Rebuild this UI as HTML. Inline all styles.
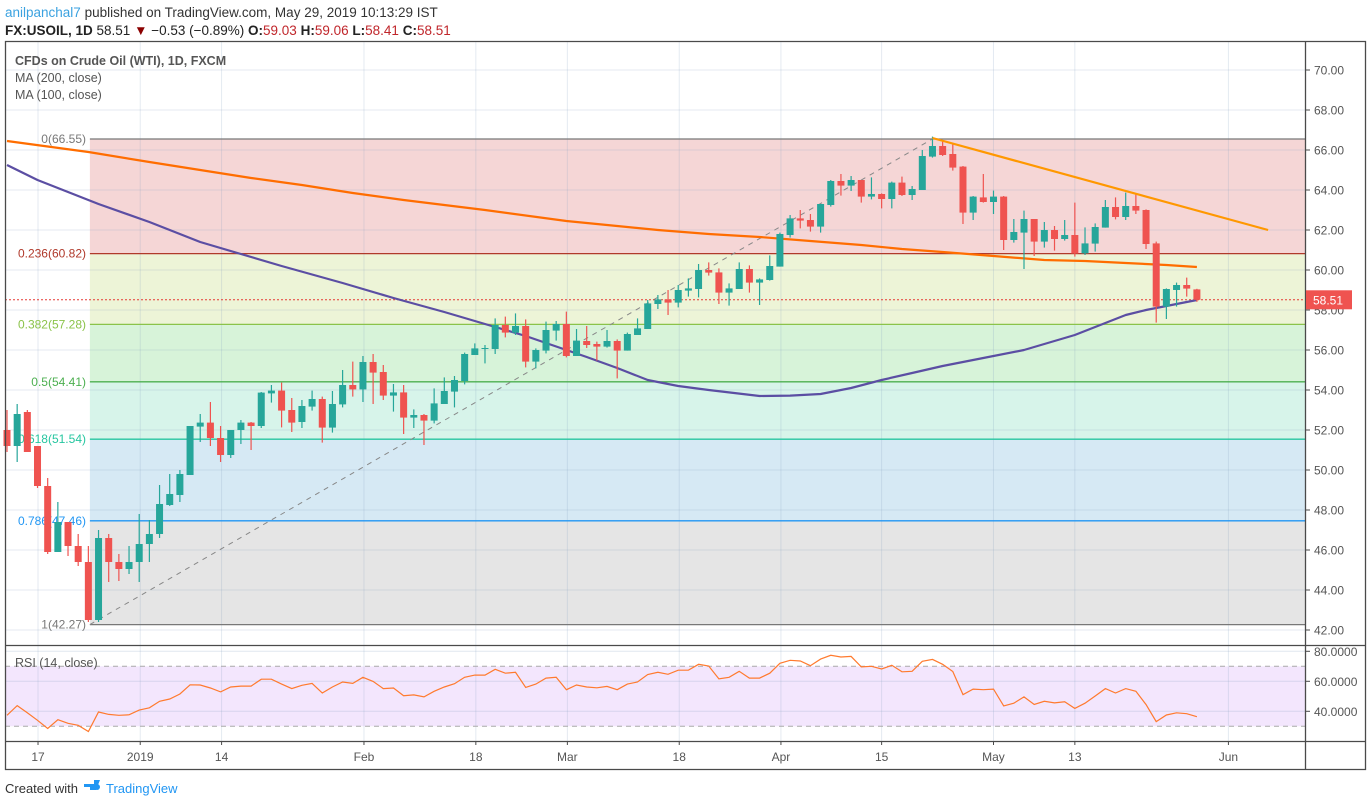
<!DOCTYPE html>
<html><head><meta charset="utf-8">
<style>
html,body{margin:0;padding:0;background:#fff;}
body{width:1372px;height:806px;overflow:hidden;font-family:"Liberation Sans",sans-serif;}
svg text{font-family:"Liberation Sans",sans-serif;}
</style></head>
<body>
<svg id="chart" width="1372" height="806" viewBox="0 0 1372 806" xmlns="http://www.w3.org/2000/svg">
  <g>
    <text x="5" y="17" font-size="13.5" fill="#333"><tspan fill="#3ba2e0">anilpanchal7</tspan> published on TradingView.com, May 29, 2019 10:13:29 IST</text>
    <text x="5" y="35" font-size="13.5" fill="#222"><tspan font-weight="bold">FX:USOIL, 1D</tspan> 58.51 <tspan fill="#8b0000">▼</tspan> −0.53 (−0.89%) <tspan font-weight="bold">O:</tspan><tspan fill="#c0262b">59.03</tspan> <tspan font-weight="bold">H:</tspan><tspan fill="#c0262b">59.06</tspan> <tspan font-weight="bold">L:</tspan><tspan fill="#c0262b">58.41</tspan> <tspan font-weight="bold">C:</tspan><tspan fill="#c0262b">58.51</tspan></text>
  </g>
  <g id="bg"></g>
  <g id="grid"></g>
  <g id="fib"></g>
  <g id="marks"></g>
  <g id="axes"></g>
  <g>
    <text x="15" y="65" font-size="12.5" fill="#555" font-weight="bold">CFDs on Crude Oil (WTI), 1D, FXCM</text>
    <text x="15" y="82" font-size="12.5" fill="#555">MA (200, close)</text>
    <text x="15" y="99" font-size="12.5" fill="#555">MA (100, close)</text>
    <text x="15" y="667" font-size="12.5" fill="#555">RSI (14, close)</text>
  </g>
  <g>
    <text x="5" y="793" font-size="13" fill="#333">Created with</text>
    <g>
      <path d="M84 784 h10 v-4 h6 l-4 10 h-6 v-3 h-6z" fill="#2196f3"/>
      <circle cx="97" cy="787" r="3" fill="#2196f3"/>
      <text x="106" y="793" font-size="13" fill="#2196f3">TradingView</text>
    </g>
  </g>
</svg>
<script>
// ---- data ----
const opens  = [52.0,51.2,52.9,51.2,49.2,45.9,47.4,46.2,45.4,42.5,46.6,45.4,45.05,45.4,46.3,46.8,48.25,48.75,49.75,52.17,52.37,51.6,50.75,52.0,52.37,52.2,53.83,53.97,53.0,52.4,53.17,53.55,52.12,53.28,54.25,54.03,55.4,54.9,53.72,53.88,52.62,52.75,52.47,53.3,53.92,54.45,55.75,56.05,56.05,57.25,56.87,57.2,55.42,55.97,56.97,57.3,55.7,56.45,56.3,56.17,56.45,55.97,56.75,57.05,58.3,58.53,58.37,58.97,59.05,60.0,59.88,58.87,59.05,60.05,59.37,59.5,60.17,61.75,62.58,62.5,62.17,63.25,64.45,64.22,64.5,63.67,63.8,63.55,64.37,63.75,64.0,65.67,66.2,65.8,65.17,62.87,63.63,63.4,63.67,61.5,61.87,62.55,61.42,62.0,61.55,61.75,60.83,61.32,62.12,63.15,62.65,63.2,63.0,61.33,58.17,59.0,59.25,59.03];
const highs  = [53.0,53.3,53.0,51.2,49.6,48.4,47.4,46.8,46.2,47.0,46.8,45.8,46.2,47.8,47.5,49.25,49.8,50.0,52.2,52.8,53.4,52.2,52.0,52.5,52.4,53.9,54.25,54.37,53.6,53.5,53.97,53.67,53.95,55.0,55.42,55.7,55.8,55.25,54.3,54.25,53.03,52.8,54.08,54.63,54.7,55.87,56.33,56.25,57.58,57.67,57.83,57.53,56.08,57.42,57.45,57.92,57.05,57.2,56.42,57.0,56.53,56.87,57.58,58.5,58.75,59.0,59.25,59.58,60.3,60.38,60.08,59.33,60.38,60.23,59.58,60.73,61.87,62.75,63.0,62.8,63.3,64.5,64.8,64.7,64.5,64.63,63.83,64.42,64.67,64.2,66.0,66.67,66.47,66.33,65.2,63.7,64.8,63.97,63.7,62.55,62.97,62.55,62.4,62.2,62.5,63.37,62.13,62.33,63.5,63.63,63.87,63.8,63.03,61.42,59.08,59.37,59.62,59.06];
const lows   = [50.9,50.4,50.9,49.1,45.8,45.9,45.7,45.2,42.4,42.4,44.4,44.45,44.8,44.4,45.4,46.6,48.2,48.4,49.75,51.4,51.2,50.4,50.6,51.3,51.0,52.1,53.37,52.13,51.9,52.1,52.97,51.37,51.87,53.13,53.67,53.4,53.3,53.5,52.92,51.8,52.1,51.25,52.33,53.3,53.13,54.28,55.75,55.33,55.8,56.63,56.75,55.13,55.08,55.83,56.47,55.63,55.7,56.1,55.47,56.12,54.58,55.97,56.75,57.05,58.05,57.75,58.13,58.67,58.63,59.72,58.3,58.22,59.05,58.87,58.25,59.47,60.17,61.62,62.08,61.92,61.87,63.17,63.72,63.95,63.37,63.53,63.08,63.08,63.7,63.5,64.0,65.62,65.7,64.97,62.3,62.5,63.37,62.8,61.0,61.37,60.05,60.7,61.12,60.97,61.47,60.67,60.75,60.92,62.12,62.53,62.5,62.8,61.05,57.37,57.55,58.17,58.67,58.41];
const closes = [51.2,52.8,50.9,49.2,45.9,47.4,46.2,45.4,42.5,46.6,45.4,45.05,45.4,46.3,46.8,48.3,48.8,49.8,52.2,52.37,51.6,50.75,52.0,52.37,52.2,53.87,53.97,52.97,52.37,53.2,53.55,52.12,53.3,54.25,54.03,55.4,54.87,53.72,53.88,52.62,52.75,52.47,53.33,53.95,54.5,55.8,56.08,56.1,57.25,56.87,57.2,55.42,56.0,57.0,57.3,55.7,56.47,56.25,56.17,56.45,55.97,56.8,57.08,58.33,58.53,58.37,59.0,59.08,60.0,59.87,58.87,59.08,60.05,59.37,59.53,60.2,61.8,62.58,62.47,62.17,63.3,64.45,64.22,64.5,63.67,63.8,63.55,64.37,63.75,64.05,65.7,66.2,65.75,65.12,62.87,63.67,63.4,63.67,61.5,61.9,62.55,61.42,62.0,61.55,61.75,60.83,61.33,62.15,63.15,62.65,63.2,62.97,61.3,58.17,59.05,59.25,59.07,58.51];
const rsiValues = [37.3,43.8,39.0,34.0,28.5,34.4,32.0,30.7,26.5,39.5,37.9,37.3,37.7,40.8,42.3,46.7,48.2,51.5,57.7,57.5,55.5,52.9,56.2,56.8,56.8,61.4,61.4,58.1,55.1,57.3,58.6,52.2,56.2,59.5,58.6,62.7,59.9,55.1,55.5,50.4,50.9,49.6,53.3,56.2,58.4,62.7,64.1,64.1,68.0,65.4,66.0,55.9,58.1,62.1,62.7,54.4,57.5,56.2,55.7,56.6,54.4,58.1,59.5,64.5,66.0,64.7,67.4,67.4,71.3,70.2,61.6,62.7,66.7,62.1,62.1,65.4,72.0,74.0,73.5,70.4,74.8,77.3,76.2,76.6,69.6,70.0,68.2,70.7,66.3,66.7,73.3,74.6,71.3,66.5,51.1,54.8,54.4,54.8,43.6,45.4,49.6,44.5,46.7,45.6,46.3,41.9,45.4,50.2,55.1,52.2,55.1,53.3,44.5,33.1,37.5,39.0,38.4,36.4];
const ma200Bars = [0,8,14,19,24,29,34,39,47,55,60,64,69,74,79,84,88,92,97,102,106,110,114,117];
const ma200Values = [66.45,65.9,65.4,65.0,64.6,64.25,63.85,63.5,63.0,62.45,62.2,62.0,61.8,61.65,61.45,61.25,61.05,60.9,60.7,60.5,60.45,60.35,60.25,60.15];
const ma100Bars = [0,3,6,9,14,19,23,27,33,38,43,47,51,57,60,63,66,69,74,77,80,83,86,89,92,96,100,105,110,112,114,117];
const ma100Values = [65.25,64.5,63.9,63.3,62.4,61.4,60.8,60.2,59.35,58.6,57.9,57.3,56.7,55.65,55.1,54.5,54.2,54.0,53.7,53.72,53.8,54.1,54.5,54.85,55.2,55.6,56.0,56.75,57.75,58.0,58.2,58.5];
const fibRatios = ["0","0.236","0.382","0.5","0.618","0.786","1"];
const fibPrices = [66.55,60.82,57.28,54.41,51.54,47.46,42.27];
const fibStartBar = 8.15, fibEndBar = 91;
const trendBars = [91,124];
const trendValues = [66.6,62.0];
const priceTicks = [42,44,46,48,50,52,54,56,58,60,62,64,66,68,70];
const rsiTicks = [80,60,40];
const dateLabels = ["17","2019","14","Feb","18","Mar","18","Apr","15","May","13","Jun"];
const dateBars = [3.05,13.1,21.1,35.1,46.1,55.1,66.1,76.1,86.0,97.0,105.0,120.1];
const lastPrice = 58.51;

// ---- scales ----
const X0 = 7, BAR = 10.17;
const xS = i => X0 + i * BAR;
const yP = p => 70 + (70 - p) * 20;
const yR = v => 651.3 + (80 - v) * 1.5;
const NS = "http://www.w3.org/2000/svg";
function mk(tag, attrs, parent) {
  const e = document.createElementNS(NS, tag);
  for (const k in attrs) e.setAttribute(k, attrs[k]);
  parent.appendChild(e);
  return e;
}
const bg = document.getElementById('bg'), grid = document.getElementById('grid');
const fibG = document.getElementById('fib'), marks = document.getElementById('marks'), axes = document.getElementById('axes');

// ---- fib fills ----
const fibFill = ['#f5d6d6','#edf4d7','#d7f3d9','#d7f4ea','#d6e9f4','#e5e5e5'];
const fibLine = ['#787878','#b0392b','#8bc34a','#4caf50','#26c6a0','#2196f3','#787878'];
const fx0 = xS(fibStartBar), fx1 = 1305;
for (let k = 0; k < fibPrices.length - 1; k++) {
  const r = mk('rect', {x: fx0, y: yP(fibPrices[k]), width: fx1 - fx0, height: yP(fibPrices[k+1]) - yP(fibPrices[k]), fill: fibFill[k]}, bg);
  
  
}
const band = mk('rect', {x: 5, y: yR(70), width: 1300, height: yR(30) - yR(70), fill: '#f3e6fd'}, bg);



// ---- grid ----
priceTicks.forEach(p => {
  const l = mk('line', {x1: 5, x2: 1305, y1: yP(p), y2: yP(p), stroke: 'rgba(130,160,190,0.22)', 'stroke-width': 1}, grid);
  
  
});
rsiTicks.forEach(v => {
  const l = mk('line', {x1: 5, x2: 1305, y1: yR(v), y2: yR(v), stroke: 'rgba(130,160,190,0.25)', 'stroke-width': 1}, grid);
  
  
});
dateBars.forEach(b => {
  const x = xS(b);
  const l1 = mk('line', {x1: x, x2: x, y1: 41, y2: 645, stroke: 'rgba(130,160,190,0.22)'}, grid);
  
  
  const l2 = mk('line', {x1: x, x2: x, y1: 645, y2: 741, stroke: 'rgba(130,160,190,0.22)'}, grid);
  
  
});
[70, 30].forEach(v => {
  const l = mk('line', {x1: 5, x2: 1305, y1: yR(v), y2: yR(v), stroke: '#aaa', 'stroke-dasharray': '5,4'}, grid);
  
  
});

// ---- fib lines & labels ----
fibPrices.forEach((p, k) => {
  const y = yP(p);
  const l = mk('line', {x1: fx0, x2: fx1, y1: y, y2: y, stroke: fibLine[k], 'stroke-width': 1.3}, fibG);
  
  
  const t = mk('text', {x: 86, y: y + 4, 'font-size': 12, 'text-anchor': 'end', fill: fibLine[k]}, fibG);
  t.textContent = fibRatios[k] + '(' + p.toFixed(2) + ')';
  
  
});
const fd = mk('line', {x1: fx0, y1: yP(fibPrices[6]), x2: xS(fibEndBar), y2: yP(fibPrices[0]), stroke: '#888', 'stroke-width': 1, 'stroke-dasharray': '5,5'}, fibG);



const cp = mk('line', {x1: 5, x2: 1305, y1: yP(lastPrice), y2: yP(lastPrice), stroke: '#e53935', 'stroke-dasharray': '2,2'}, marks);



// ---- MAs ----
function poly(bars, vals, ys) { return bars.map((b, i) => xS(b).toFixed(1) + ',' + ys(vals[i]).toFixed(1)).join(' '); }
const m200 = mk('polyline', {points: poly(ma200Bars, ma200Values, yP), fill: 'none', stroke: '#ff6d00', 'stroke-width': 2.2, 'stroke-linejoin': 'round'}, marks);


const m100 = mk('polyline', {points: poly(ma100Bars, ma100Values, yP), fill: 'none', stroke: '#5b4ea3', 'stroke-width': 2.2, 'stroke-linejoin': 'round'}, marks);



// ---- candles ----
for (let i = 0; i < closes.length; i++) {
  const up = closes[i] >= opens[i];
  const col = up ? '#26a69a' : '#ef5350';
  const x = xS(i);
  const g = mk('g', {}, marks);
  
  
  mk('line', {x1: x, x2: x, y1: yP(highs[i]), y2: yP(lows[i]), stroke: col, 'stroke-width': 1.2}, g);
  const top = yP(Math.max(opens[i], closes[i])), bot = yP(Math.min(opens[i], closes[i]));
  mk('rect', {x: x - 3.5, y: top, width: 7, height: Math.max(1, bot - top), fill: col}, g);
}

const tl = mk('line', {x1: xS(trendBars[0]), y1: yP(trendValues[0]), x2: xS(trendBars[1]), y2: yP(trendValues[1]), stroke: '#ff9800', 'stroke-width': 2.2}, marks);



const rsiPts = rsiValues.map((v, i) => xS(i).toFixed(1) + ',' + yR(v).toFixed(1)).join(' ');
const rl = mk('polyline', {points: rsiPts, fill: 'none', stroke: '#ff7a2e', 'stroke-width': 1.2}, marks);



// ---- axes / frame ----
const frame = mk('path', {d: 'M5.5 41.5 H1365.5 V769.5 H5.5 Z M1305.5 41.5 V769.5 M5.5 645.5 H1365.5 M5.5 741.5 H1365.5', fill: 'none', stroke: '#4a4a4a', 'stroke-width': 1.3}, axes);


priceTicks.forEach(p => {
  if (yP(p) < 45 || yP(p) > 642) return;
  mk('line', {x1: 1305, x2: 1310, y1: yP(p), y2: yP(p), stroke: '#4a4a4a'}, axes);
  const t = mk('text', {x: 1314, y: yP(p) + 4.5, 'font-size': 12, fill: '#555'}, axes);
  t.textContent = p.toFixed(2);
  
  
});
rsiTicks.forEach(v => {
  mk('line', {x1: 1305, x2: 1310, y1: yR(v), y2: yR(v), stroke: '#4a4a4a'}, axes);
  const t = mk('text', {x: 1314, y: yR(v) + 4.5, 'font-size': 12, fill: '#555'}, axes);
  t.textContent = v.toFixed(4);
  
  
});
dateLabels.forEach((d, k) => {
  const x = xS(dateBars[k]);
  mk('line', {x1: x, x2: x, y1: 741, y2: 745, stroke: '#4a4a4a'}, axes);
  const t = mk('text', {x: x, y: 761, 'font-size': 12, 'text-anchor': 'middle', fill: '#555'}, axes);
  t.textContent = d;
  
  
});
const tag = mk('g', {}, axes);


mk('rect', {x: 1306, y: yP(lastPrice) - 9.5, width: 46, height: 19, fill: '#ef5350'}, tag);
const tt = mk('text', {x: 1313, y: yP(lastPrice) + 4.5, 'font-size': 12, fill: '#fff'}, tag);
tt.textContent = lastPrice.toFixed(2);
</script>
</body></html>
